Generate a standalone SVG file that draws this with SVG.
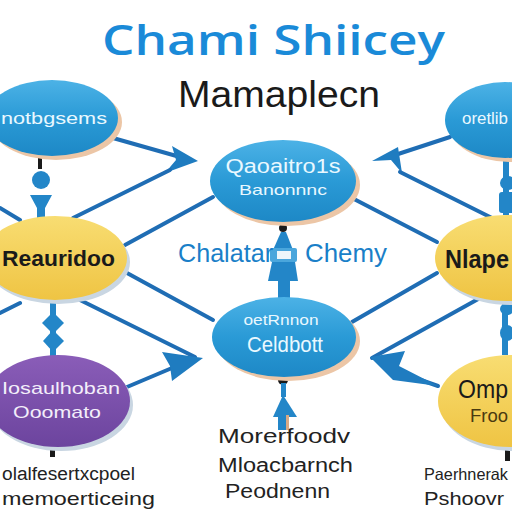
<svg xmlns="http://www.w3.org/2000/svg" width="512" height="512" viewBox="0 0 512 512">
<defs>
<linearGradient id="gBlue" x1="0" y1="0" x2="0" y2="1"><stop offset="0" stop-color="#4cb2e6"/><stop offset="0.5" stop-color="#2a9ad6"/><stop offset="1" stop-color="#1d88c6"/></linearGradient>
<linearGradient id="gYel" x1="0" y1="0" x2="0" y2="1"><stop offset="0" stop-color="#f8dd72"/><stop offset="1" stop-color="#efc443"/></linearGradient>
<linearGradient id="gPur" x1="0" y1="0" x2="0" y2="1"><stop offset="0" stop-color="#8a5db8"/><stop offset="1" stop-color="#6c449e"/></linearGradient>
</defs>
<style>
.ln{stroke:#1f6db4;stroke-width:4;fill:none;stroke-linecap:round}
.ah{fill:#1f7cc0}
.deco{fill:#2386c8}
.blk{fill:#1a1a1a}
.shB{fill:#ecc6a6}
.shY{fill:#c9d6e2}
.nb{fill:url(#gBlue)}
.ny{fill:url(#gYel)}
.np{fill:url(#gPur)}
.t{font-family:"Liberation Sans","DejaVu Sans",sans-serif}
.w{fill:#e9f8ff}
.d{fill:#1a1a1a}
.title{font-family:"Open Sans","Liberation Sans",sans-serif;font-weight:600;fill:#1a8ad8}
</style>
<rect width="512" height="512" fill="#ffffff"/>

<g id="title">
<text class="title" x="102" y="55" font-size="42" textLength="343" lengthAdjust="spacingAndGlyphs">Chami Shiicey</text>
<text class="t d" x="178" y="107" font-size="36" textLength="202" lengthAdjust="spacingAndGlyphs">Mamaplecn</text>
</g>

<g id="connectors">
<line class="ln" x1="113" y1="138" x2="180" y2="157"/>
<polygon class="ah" points="172,146 198,161 165,173 176,160"/>
<line class="ln" x1="170" y1="170" x2="73" y2="218"/>
<line class="ln" x1="20" y1="220" x2="0" y2="208"/>
<line class="ln" x1="125" y1="245" x2="213" y2="197"/>
<line class="ln" x1="127" y1="273" x2="213" y2="320"/>
<line class="ln" x1="80" y1="300" x2="195" y2="357"/>
<line class="ln" x1="20" y1="303" x2="0" y2="313"/>
<line class="ln" x1="127" y1="387" x2="172" y2="368"/>
<polygon class="ah" points="162,352 203,358 172,381 170,366"/>

<line class="ln" x1="450" y1="137" x2="392" y2="156"/>
<polygon class="ah" points="372,161 398,147 402,173 391,160"/>
<line class="ln" x1="400" y1="172" x2="490" y2="217"/>
<line class="ln" x1="352" y1="198" x2="437" y2="242"/>
<line class="ln" x1="437" y1="273" x2="352" y2="322"/>
<line class="ln" x1="480" y1="298" x2="372" y2="358"/>
<line class="ln" x1="438" y1="386" x2="398" y2="372"/>
<polygon class="ah" points="370,357 405,351 399,366 438,386 393,380"/>

<rect class="blk" x="38" y="155" width="4" height="14"/>
<ellipse class="deco" cx="41" cy="180" rx="9" ry="9"/>
<polygon class="deco" points="30,195 52,195 45,208 45,218 37,218 37,208"/>
<rect class="deco" x="50" y="300" width="6" height="56"/>
<polygon class="deco" points="53,312 64,323 53,334 42,323"/>
<polygon class="deco" points="53,330 64,341 53,352 43,341"/>
<rect class="blk" x="50" y="447" width="5" height="10"/>
<rect class="deco" x="503" y="158" width="6" height="57"/>
<ellipse class="deco" cx="508" cy="183" rx="8" ry="7"/>
<rect class="deco" x="499" y="192" width="16" height="21" rx="3"/>
<rect class="deco" x="502" y="300" width="6" height="55"/>
<ellipse class="deco" cx="507" cy="309" rx="7" ry="6"/>
<ellipse class="deco" cx="507" cy="333" rx="7" ry="8"/>
<rect class="blk" x="505" y="447" width="5" height="14"/>
<circle class="blk" cx="283" cy="228" r="4"/>
<polygon class="deco" points="281,232 286,232 293,250 273,250"/>
<rect fill="#4aa6dc" x="270" y="248" width="27" height="14" rx="2"/>
<rect fill="#eef6fb" x="277" y="251" width="14" height="8"/>
<polygon class="deco" points="272,262 295,262 298,281 268,281"/>
<rect class="deco" x="278" y="280" width="12" height="18"/>
<circle class="blk" cx="283" cy="380" r="5"/>
<rect class="deco" x="281" y="383" width="5" height="14"/>
<polygon class="deco" points="283,395 297,417 273,417"/>
<rect class="deco" x="278" y="415" width="10" height="15"/>
<rect fill="#d9a985" x="286" y="415" width="3" height="15"/>
</g>

<g id="n1">
<ellipse class="shB" cx="56" cy="122" rx="66" ry="38"/>
<ellipse class="nb" cx="52" cy="118" rx="66" ry="38"/>
<text class="t w" x="54" y="124" font-size="17" text-anchor="middle" textLength="106" lengthAdjust="spacingAndGlyphs">notbgsems</text>
</g>
<g id="n2">
<ellipse class="shB" cx="509" cy="124" rx="60" ry="38"/>
<ellipse class="nb" cx="505" cy="120" rx="60" ry="38"/>
<text class="t w" x="462" y="124" font-size="16" textLength="46" lengthAdjust="spacingAndGlyphs">oretlib</text>
</g>
<g id="n3">
<ellipse class="shB" cx="287" cy="185" rx="73" ry="41"/>
<ellipse class="nb" cx="283" cy="181" rx="73" ry="41"/>
<text class="t w" x="283" y="173" font-size="20" text-anchor="middle" textLength="115" lengthAdjust="spacingAndGlyphs">Qaoaitro1s</text>
<text class="t w" x="283" y="195" font-size="15" text-anchor="middle" textLength="88" lengthAdjust="spacingAndGlyphs">Banonnnc</text>
</g>
<g id="n4">
<ellipse class="shY" cx="58" cy="262" rx="72" ry="42"/>
<ellipse class="ny" cx="55" cy="258" rx="72" ry="42"/>
<text class="t d" x="2" y="266" font-size="22" font-weight="bold" textLength="113" lengthAdjust="spacingAndGlyphs">Reauridoo</text>
</g>
<g id="n5">
<ellipse class="shY" cx="510" cy="262" rx="72" ry="43"/>
<ellipse class="ny" cx="507" cy="258" rx="72" ry="43"/>
<text class="t d" x="445" y="268" font-size="25" font-weight="bold" textLength="64" lengthAdjust="spacingAndGlyphs">Nlape</text>
</g>
<g id="n6">
<ellipse class="shB" cx="288" cy="341" rx="72" ry="40"/>
<ellipse class="nb" cx="284" cy="337" rx="72" ry="40"/>
<text class="t w" x="281" y="325" font-size="14" text-anchor="middle" textLength="75" lengthAdjust="spacingAndGlyphs">oetRnnon</text>
<text class="t w" x="285" y="352" font-size="22" text-anchor="middle" textLength="76" lengthAdjust="spacingAndGlyphs">Celdbott</text>
</g>
<g id="n7">
<ellipse class="shY" cx="61" cy="405" rx="72" ry="46"/>
<ellipse class="np" cx="58" cy="401" rx="72" ry="46"/>
<text class="t" fill="#f3eefa" x="2" y="394" font-size="17" textLength="118" lengthAdjust="spacingAndGlyphs">Iosaulhoban</text>
<text class="t" fill="#f3eefa" x="57" y="418" font-size="17" text-anchor="middle" textLength="88" lengthAdjust="spacingAndGlyphs">Ooomato</text>
</g>
<g id="n8">
<ellipse class="shY" cx="513" cy="405" rx="72" ry="46"/>
<ellipse class="ny" cx="510" cy="401" rx="72" ry="46"/>
<text class="t d" x="458" y="398" font-size="25" textLength="50" lengthAdjust="spacingAndGlyphs">Omp</text>
<text class="t" fill="#4a3a10" x="470" y="422" font-size="19" textLength="38" lengthAdjust="spacingAndGlyphs">Froo</text>
</g>

<g id="labels">
<text class="t" fill="#1a7fc8" x="178" y="262" font-size="25" textLength="95" lengthAdjust="spacingAndGlyphs">Chalatar</text>
<text class="t" fill="#1a7fc8" x="305" y="262" font-size="25" textLength="82" lengthAdjust="spacingAndGlyphs">Chemy</text>
<text class="t" fill="#222" x="218" y="443" font-size="20" textLength="132" lengthAdjust="spacingAndGlyphs">Morerfoodv</text>
<text class="t" fill="#222" x="218" y="472" font-size="20" textLength="135" lengthAdjust="spacingAndGlyphs">Mloacbarnch</text>
<text class="t" fill="#222" x="225" y="498" font-size="20" textLength="105" lengthAdjust="spacingAndGlyphs">Peodnenn</text>
<text class="t" fill="#222" x="2" y="480" font-size="18" textLength="133" lengthAdjust="spacingAndGlyphs">olalfesertxcpoel</text>
<text class="t" fill="#222" x="2" y="505" font-size="19" textLength="153" lengthAdjust="spacingAndGlyphs">memoerticeing</text>
<text class="t" fill="#222" x="424" y="480" font-size="16.5" textLength="84" lengthAdjust="spacingAndGlyphs">Paerhnerak</text>
<text class="t" fill="#222" x="424" y="505" font-size="19" textLength="80" lengthAdjust="spacingAndGlyphs">Pshoovr</text>
</g>
</svg>
